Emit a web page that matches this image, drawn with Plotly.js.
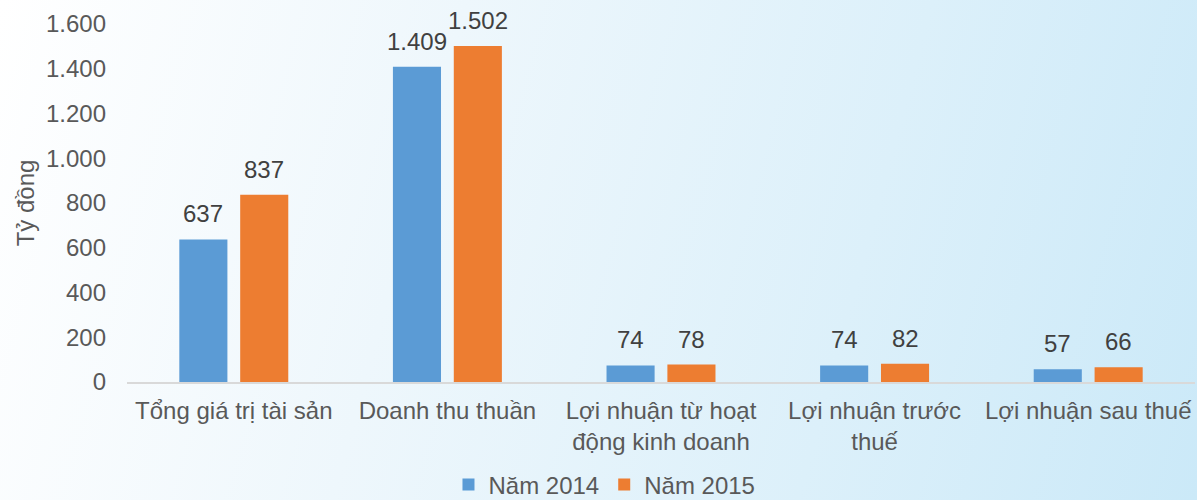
<!DOCTYPE html>
<html>
<head>
<meta charset="utf-8">
<script src="https://cdn.plot.ly/plotly-3.0.1.min.js"></script>
<style>
html, body { margin:0; padding:0; width:1197px; height:500px; overflow:hidden;
  background: linear-gradient(105deg, #ffffff 0%, #eef7fc 35%, #dcf0fa 70%, #cbe9f8 100%); }
#chart { width:1197px; height:500px; }
</style>
</head>
<body>
<div id="chart"></div>
<script>
const categories = [
  "Tổng giá trị tài sản",
  "Doanh thu thuần",
  "Lợi nhuận từ hoạt<br>động kinh doanh",
  "Lợi nhuận trước<br>thuế",
  "Lợi nhuận sau thuế"
];
const values2014 = [637, 1409, 74, 74, 57];
const values2015 = [837, 1502, 78, 82, 66];
const seriesNames = ["Năm 2014", "Năm 2015"];
const yTicks = [0, 200, 400, 600, 800, 1000, 1200, 1400, 1600];

const FONT = "Liberation Sans, Arial, sans-serif";
const FS = 24;
const BARGAP = 0.43;
const slotHalf = (1 - BARGAP) / 4; // offset of each bar centre from category centre, in category units

function fmt(v) {
  return String(v).replace(/\B(?=(\d{3})+(?!\d))/g, ".");
}

const common = {
  type: "bar",
  x: categories,
  hoverinfo: "skip"
};
const data = [
  Object.assign({}, common, { y: values2014, name: seriesNames[0], marker: { color: "#5b9bd5" } }),
  Object.assign({}, common, { y: values2015, name: seriesNames[1], marker: { color: "#ed7d31" } })
];

const annotations = [];
[values2014, values2015].forEach((vals, s) => {
  vals.forEach((v, i) => {
    annotations.push({
      xref: "x", yref: "y",
      x: i + (s === 0 ? -slotHalf : slotHalf), y: v,
      text: fmt(v), showarrow: false,
      xanchor: "center", yanchor: "bottom", yshift: 10,
      font: { family: FONT, size: FS, color: "#404040" }
    });
  });
});

const layout = {
  width: 1197, height: 500,
  margin: { l: 127, r: 2, t: 24, b: 118, autoexpand: false },
  paper_bgcolor: "rgba(0,0,0,0)",
  plot_bgcolor: "rgba(0,0,0,0)",
  separators: ",.",
  font: { family: FONT, size: FS, color: "#595959" },
  barmode: "group",
  bargap: BARGAP,
  bargroupgap: 0.21,
  showlegend: true,
  annotations: annotations,
  legend: {
    orientation: "h", xref: "container", yref: "container",
    x: 0.505, xanchor: "center", y: 0.03, yanchor: "middle",
    font: { family: FONT, size: FS, color: "#595959" },
    bgcolor: "rgba(0,0,0,0)"
  },
  xaxis: {
    showline: true, linecolor: "#d9d9d9", linewidth: 2,
    showgrid: false, zeroline: false, ticks: "",
    ticklabelstandoff: 6, tickangle: 0,
    tickfont: { family: FONT, size: FS, color: "#595959" },
    fixedrange: true
  },
  yaxis: {
    range: [0, 1600], tickvals: yTicks, separatethousands: true,
    tickformat: ",d",
    showgrid: false, zeroline: false, showline: false, ticks: "",
    ticklabelstandoff: 20,
    tickfont: { family: FONT, size: FS, color: "#595959" },
    title: { text: "Tỷ đồng", font: { family: FONT, size: FS, color: "#595959" }, standoff: 4 },
    fixedrange: true
  }
};
Plotly.newPlot("chart", data, layout, { displayModeBar: false, staticPlot: true });
</script>
</body>
</html>
